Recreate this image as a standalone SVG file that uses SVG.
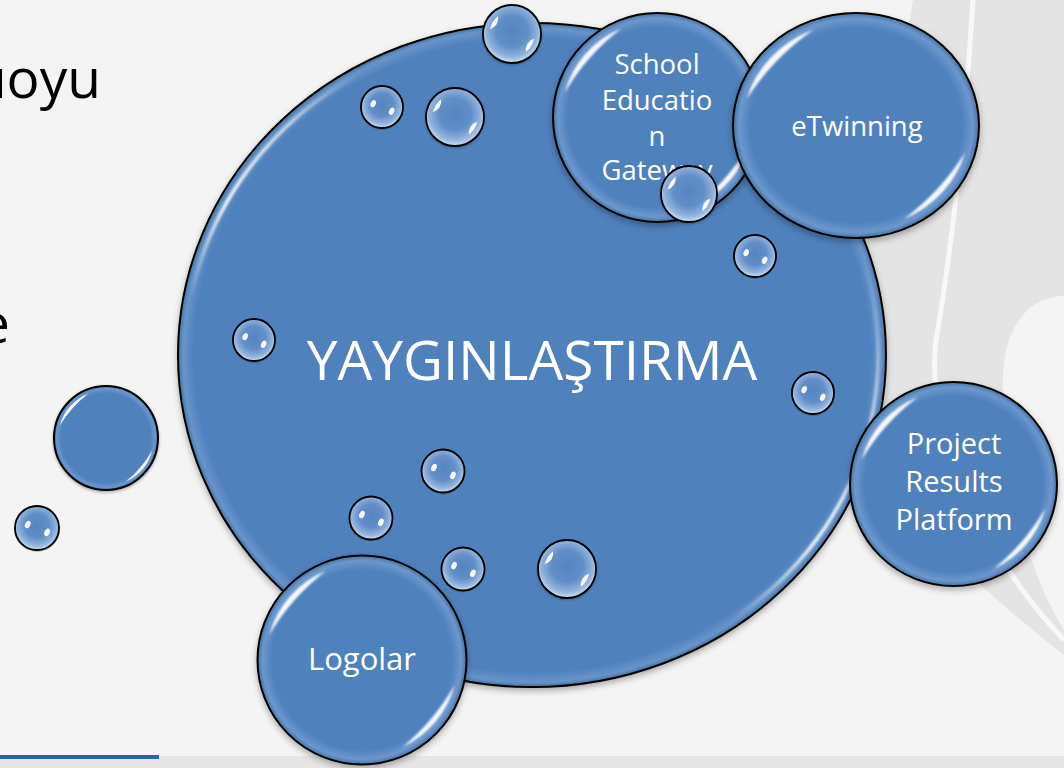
<svg xmlns="http://www.w3.org/2000/svg" width="1064" height="768" viewBox="0 0 1064 768">
<style>
  .lbl{font-family:"Open Sans","Noto Sans","Liberation Sans",sans-serif;fill:#ffffff;text-anchor:middle}
  .side{font-family:"Open Sans","Noto Sans","Liberation Sans",sans-serif;fill:#000000;font-size:55px;text-anchor:end}
  .outline{stroke:#000000;stroke-width:2;vector-effect:non-scaling-stroke}
  .thin{stroke:#000000;stroke-width:1.8;vector-effect:non-scaling-stroke}
  .hl{fill:#ffffff;opacity:0.95}
  .spk{fill:#ffffff;opacity:0.95}
</style>
<defs>
  <radialGradient id="gNode" cx="0.5" cy="0.5" r="0.5">
    <stop offset="0" stop-color="#4f81bd"/>
    <stop offset="0.86" stop-color="#4f81bd"/>
    <stop offset="0.95" stop-color="#6b97cd"/>
    <stop offset="1" stop-color="#46739f"/>
  </radialGradient>
  <radialGradient id="gBig" cx="0.5" cy="0.5" r="0.5">
    <stop offset="0" stop-color="#4f81bd"/>
    <stop offset="0.955" stop-color="#4f81bd"/>
    <stop offset="0.985" stop-color="#6894ca"/>
    <stop offset="1" stop-color="#46739f"/>
  </radialGradient>
  <radialGradient id="gBub" cx="0.5" cy="0.45" r="0.55">
    <stop offset="0" stop-color="#5584c0"/>
    <stop offset="0.5" stop-color="#618ec8"/>
    <stop offset="0.82" stop-color="#94b5de"/>
    <stop offset="1" stop-color="#d4e2f2"/>
  </radialGradient>
  <linearGradient id="hlUL" gradientUnits="userSpaceOnUse" x1="191" y1="299" x2="359" y2="74">
    <stop offset="0" stop-color="#fff" stop-opacity="0"/>
    <stop offset="0.35" stop-color="#fff" stop-opacity="0.9"/>
    <stop offset="0.7" stop-color="#fff" stop-opacity="0.6"/>
    <stop offset="1" stop-color="#fff" stop-opacity="0"/>
  </linearGradient>
  <linearGradient id="hlLR" gradientUnits="userSpaceOnUse" x1="861" y1="255" x2="730" y2="620">
    <stop offset="0" stop-color="#fff" stop-opacity="0"/>
    <stop offset="0.4" stop-color="#fff" stop-opacity="0.6"/>
    <stop offset="0.75" stop-color="#fff" stop-opacity="0.9"/>
    <stop offset="1" stop-color="#fff" stop-opacity="0"/>
  </linearGradient>
  <filter id="shadow" x="-20%" y="-20%" width="140%" height="150%">
    <feDropShadow dx="0" dy="3" stdDeviation="3" flood-color="#000" flood-opacity="0.3"/>
  </filter>
  <filter id="blur" x="-50%" y="-50%" width="200%" height="200%">
    <feGaussianBlur stdDeviation="0.8"/>
  </filter>
  <g id="nodeShape">
    <circle r="100" fill="url(#gNode)" class="outline"/>
    <path class="hl" filter="url(#blur)" d="M -88.9 -23.8 A 92 92 0 0 1 -34.5 -85.3 A 220 220 0 0 0 -88.9 -23.8 Z"/>
    <path class="hl" filter="url(#blur)" d="M 88.9 23.8 A 92 92 0 0 1 38.9 83.4 A 220 220 0 0 0 88.9 23.8 Z"/>
  </g>
  <g id="bubbleL">
    <circle r="100" fill="url(#gBub)" class="thin"/>
    <path class="hl" d="M -76.3 -16.2 A 78 78 0 0 1 -48 -61.5 A 40 40 0 0 1 -76.3 -16.2 Z"/>
    <path class="hl" d="M 76.3 16.2 A 78 78 0 0 1 48 61.5 A 40 40 0 0 1 76.3 16.2 Z"/>
  </g>
  <g id="bubbleS">
    <circle r="100" fill="url(#gBub)" class="thin"/>
    <ellipse class="spk" cx="-42" cy="-16" rx="12" ry="18" transform="rotate(25 -42 -16)"/>
    <ellipse class="spk" cx="46" cy="20" rx="12" ry="18" transform="rotate(25 46 20)"/>
  </g>
</defs>

<!-- background -->
<rect x="0" y="0" width="1064" height="768" fill="#f4f4f4"/>
<path d="M 913 0 L 1064 0 L 1064 296 C 1030 296 1005 325 1003 375 C 1000 450 1020 560 1064 630 L 1064 655 C 930 550 862 470 858 380 C 855 250 895 120 913 0 Z" fill="#e4e4e4"/>
<path d="M 973 0 C 966 110 955 230 936 340 C 925 420 975 545 1064 640" fill="none" stroke="#f8f8f8" stroke-width="5"/>
<rect x="0" y="756" width="1064" height="12" fill="#e6e6e6"/>
<rect x="0" y="755" width="159" height="4" fill="#2a63ad"/>

<text class="side" x="101" y="98">uoyu</text>
<text class="side" x="10" y="343">e</text>

<g id="connectors"/>

<!-- outside bubbles -->
<g id="bubble-out-1"><use href="#nodeShape" transform="translate(106 438) scale(0.52)" filter="url(#shadow)"/></g>
<g id="bubble-out-2"><use href="#bubbleS" transform="translate(37 528) scale(0.22)" filter="url(#shadow)"/></g>

<!-- main node -->
<g id="node-yayginlastirma">
  <ellipse cx="532" cy="355" rx="354" ry="332" fill="url(#gBig)" stroke="#000" stroke-width="2" filter="url(#shadow)"/>
  <path d="M 191.3 298.7 A 346 324 0 0 1 359 74.4" fill="none" stroke="url(#hlUL)" stroke-width="3.5" filter="url(#blur)"/>
  <path d="M 861.1 254.9 A 346 324 0 0 1 730.5 620.4" fill="none" stroke="url(#hlLR)" stroke-width="3.5" filter="url(#blur)"/>
  <text class="lbl" x="532" y="380" font-size="55">YAYGINLAŞTIRMA</text>
</g>

<!-- bubbles inside -->
<g id="bubbles">
  <use href="#bubbleL" transform="translate(512 34) scale(0.29)" filter="url(#shadow)"/>
  <use href="#bubbleS" transform="translate(382 107) scale(0.21)" filter="url(#shadow)"/>
  <use href="#bubbleL" transform="translate(455 117) scale(0.29)" filter="url(#shadow)"/>
  <use href="#bubbleS" transform="translate(755 256) scale(0.21)" filter="url(#shadow)"/>
  <use href="#bubbleS" transform="translate(254 340) scale(0.21)" filter="url(#shadow)"/>
  <use href="#bubbleS" transform="translate(813 393) scale(0.21)" filter="url(#shadow)"/>
  <use href="#bubbleS" transform="translate(443 471) scale(0.215)" filter="url(#shadow)"/>
  <use href="#bubbleS" transform="translate(371 518) scale(0.215)" filter="url(#shadow)"/>
  <use href="#bubbleS" transform="translate(463 569) scale(0.215)" filter="url(#shadow)"/>
  <use href="#bubbleL" transform="translate(567 569) scale(0.29)" filter="url(#shadow)"/>
</g>

<g id="node-logolar">
  <use href="#nodeShape" transform="translate(362 660) scale(1.045)" filter="url(#shadow)"/>
  <text class="lbl" x="362" y="670" font-size="31">Logolar</text>
</g>

<g id="node-project">
  <use href="#nodeShape" transform="translate(953.5 484) scale(1.035 1.02)" filter="url(#shadow)"/>
  <text class="lbl" x="954" y="454" font-size="29">Project</text>
  <text class="lbl" x="954" y="492" font-size="29">Results</text>
  <text class="lbl" x="954" y="530" font-size="29">Platform</text>
</g>

<g id="node-school">
  <use href="#nodeShape" transform="translate(657.5 117.5) scale(1.045)" filter="url(#shadow)"/>
  <text class="lbl" x="657" y="74" font-size="27.5">School</text>
  <text class="lbl" x="657" y="110" font-size="27.5">Educatio</text>
  <text class="lbl" x="657" y="146" font-size="27.5">n</text>
  <text class="lbl" x="657" y="180" font-size="27.5">Gateway</text>
</g>

<g id="node-etwinning">
  <use href="#nodeShape" transform="translate(856 125.5) scale(1.23 1.125)" filter="url(#shadow)"/>
  <text class="lbl" x="857" y="136" font-size="27.5">eTwinning</text>
</g>

<g id="bubble-gateway">
  <use href="#bubbleL" transform="translate(689 194) scale(0.28)" filter="url(#shadow)"/>
</g>
</svg>
